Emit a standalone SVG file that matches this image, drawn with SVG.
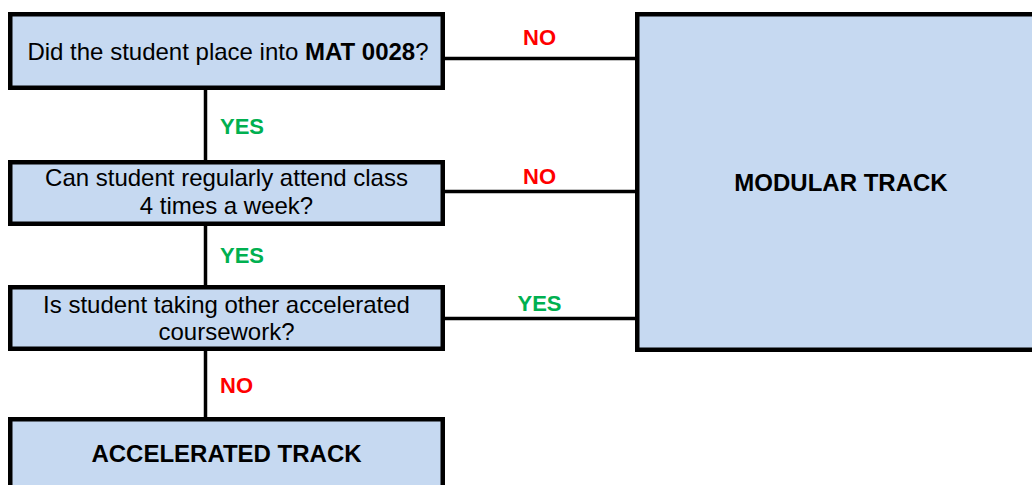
<svg xmlns="http://www.w3.org/2000/svg" width="1032" height="485" viewBox="0 0 1032 485">
<style>
.box{fill:#C6D9F1;stroke:#000;stroke-width:4.5}
.t{font-family:"Liberation Sans",Arial,sans-serif;font-size:24px;fill:#000;text-anchor:middle}
.b{font-weight:bold}
.lbl{font-family:"Liberation Sans",Arial,sans-serif;font-size:22px;font-weight:bold}
.no{fill:#FF0000}
.yes{fill:#00B050}
.c{stroke:#000;stroke-width:3.5;fill:none}
</style>
<rect width="1032" height="485" fill="#fff"/>
<g id="connectors">
<line class="c" x1="205.5" y1="90" x2="205.5" y2="160"/>
<line class="c" x1="205.5" y1="226" x2="205.5" y2="285"/>
<line class="c" x1="205.5" y1="351" x2="205.5" y2="417"/>
<line class="c" x1="445" y1="58.5" x2="636" y2="58.5"/>
<line class="c" x1="445" y1="191.5" x2="636" y2="191.5"/>
<line class="c" x1="445" y1="318.5" x2="636" y2="318.5"/>
<text class="lbl no" x="539.5" y="45" text-anchor="middle">NO</text>
<text class="lbl yes" x="220" y="134">YES</text>
<text class="lbl no" x="539.5" y="184" text-anchor="middle">NO</text>
<text class="lbl yes" x="220" y="263">YES</text>
<text class="lbl yes" x="539.5" y="311" text-anchor="middle">YES</text>
<text class="lbl no" x="220" y="393">NO</text>
</g>
<g id="q1">
<rect class="box" x="10.25" y="14.25" width="432.5" height="73.5"/>
<text class="t" x="228" y="60">Did the student place into <tspan class="b">MAT 0028</tspan>?</text>
</g>
<g id="q2">
<rect class="box" x="10.25" y="162.25" width="432.5" height="61.5"/>
<text class="t" x="226.5" y="186">Can student regularly attend class</text>
<text class="t" x="226.5" y="214">4 times a week?</text>
</g>
<g id="q3">
<rect class="box" x="10.25" y="287.25" width="432.5" height="61.5"/>
<text class="t" x="226.5" y="313">Is student taking other accelerated</text>
<text class="t" x="226.5" y="340">coursework?</text>
</g>
<g id="accelerated">
<rect class="box" x="10.25" y="419.25" width="432.5" height="90"/>
<text class="t b" x="226.5" y="462">ACCELERATED TRACK</text>
</g>
<g id="modular">
<rect class="box" x="637.25" y="14.25" width="420" height="335.5"/>
<text class="t b" x="841" y="191">MODULAR TRACK</text>
</g>
</svg>
